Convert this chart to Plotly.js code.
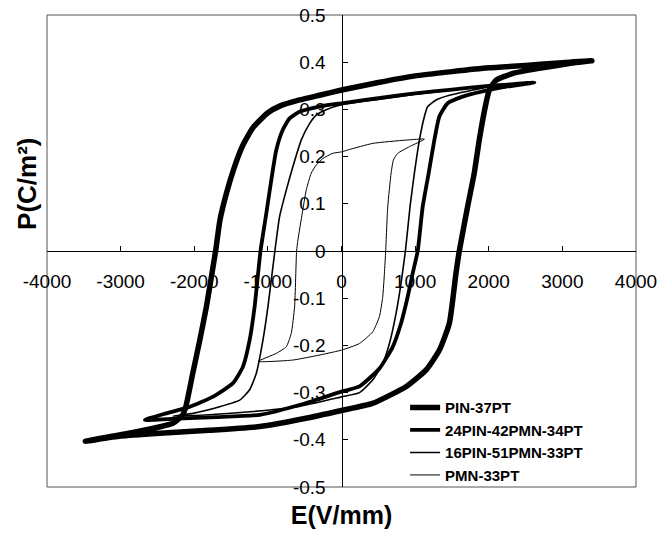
<!DOCTYPE html>
<html>
<head>
<meta charset="utf-8">
<script src="https://cdn.plot.ly/plotly-3.0.1.min.js"></script>
<style>html,body{margin:0;padding:0;background:#fff;}#chart{width:672px;height:536px;}</style>
</head>
<body>
<div id="chart"></div>
<script>
// ---- data ----
const seriesNames = ["PIN-37PT", "24PIN-42PMN-34PT", "16PIN-51PMN-33PT", "PMN-33PT"];

// PIN-37PT : upper branch (+tip -> -tip) then lower branch (-tip -> +tip)
const pin37_E = [3400, 3000, 2500, 2000, 1500, 1000, 500, 0, -300, -570, -840, -1000, -1200, -1340, -1450, -1560, -1650, -1710, -1835, -1925, -2020, -2115, -2160, -2290, -2780, -3480,
                 -3000, -2470, -1800, -1110, -500, 0, 420, 880, 1150, 1330, 1465, 1555, 1600, 1713, 1803, 1871, 1953, 2007, 2100, 2320, 2685, 3130, 3400];
const pin37_P = [0.403, 0.399, 0.393, 0.388, 0.380, 0.371, 0.357, 0.341, 0.330, 0.320, 0.307, 0.293, 0.262, 0.224, 0.180, 0.124, 0.066, 0.000, -0.118, -0.189, -0.259, -0.330, -0.348, -0.365, -0.383, -0.403,
                 -0.392, -0.386, -0.380, -0.372, -0.355, -0.338, -0.323, -0.287, -0.252, -0.210, -0.153, -0.047, 0.000, 0.094, 0.165, 0.235, 0.306, 0.341, 0.362, 0.376, 0.387, 0.398, 0.403];

// 24PIN-42PMN-34PT
const pin24_E = [2620, 2200, 2000, 1500, 1000, 500, 0, -300, -570, -705, -800, -886, -954, -1021, -1100, -1180, -1248, -1338, -1474, -1750, -2060, -2380, -2670,
                 -2240, -1700, -1110, -500, 0, 244, 515, 696, 809, 899, 967, 1035, 1103, 1184, 1261, 1329, 1442, 1645, 1916, 2195, 2620];
const pin24_P = [0.357, 0.352, 0.350, 0.342, 0.334, 0.324, 0.313, 0.306, 0.295, 0.281, 0.256, 0.214, 0.150, 0.080, 0.000, -0.118, -0.189, -0.245, -0.280, -0.309, -0.330, -0.344, -0.358,
                 -0.355, -0.352, -0.347, -0.323, -0.298, -0.287, -0.249, -0.203, -0.153, -0.097, -0.047, 0.000, 0.094, 0.165, 0.235, 0.285, 0.313, 0.327, 0.338, 0.347, 0.357];

// 16PIN-51PMN-33PT
const pin16_E = [2000, 1500, 1000, 500, 0, -200, -343, -434, -547, -660, -750, -841, -905, -999, -1067, -1157, -1248, -1383, -1654, -2016, -2290,
                 -1800, -1200, -600, 0, 244, 425, 560, 651, 741, 809, 868, 931, 990, 1058, 1126, 1171, 1284, 1465, 1781, 2000];
const pin16_P = [0.348, 0.341, 0.332, 0.321, 0.310, 0.300, 0.288, 0.270, 0.235, 0.179, 0.129, 0.073, 0.000, -0.118, -0.189, -0.259, -0.294, -0.316, -0.330, -0.344, -0.350,
                 -0.347, -0.340, -0.330, -0.309, -0.300, -0.273, -0.238, -0.196, -0.132, -0.068, 0.000, 0.094, 0.165, 0.235, 0.285, 0.306, 0.320, 0.330, 0.341, 0.348];

// PMN-33PT
const pmn_E = [1126, 877, 425, 108, 0, -118, -253, -343, -411, -479, -533, -592, -610, -637, -682, -750, -886, -1135,
               -660, 0, 244, 425, 515, 560, 583, 600, 628, 674, 705, 764, 922, 1126];
const pmn_P = [0.237, 0.235, 0.228, 0.215, 0.210, 0.207, 0.196, 0.182, 0.165, 0.129, 0.080, 0.023, 0.000, -0.118, -0.174, -0.203, -0.217, -0.234,
               -0.231, -0.210, -0.196, -0.171, -0.139, -0.097, -0.047, 0.000, 0.094, 0.165, 0.193, 0.207, 0.221, 0.237];

// tick labels
const xTickVals = [-4000, -3000, -2000, -1000, 0, 1000, 2000, 3000, 4000];
const xTickText = ["-4000", "-3000", "-2000", "-1000", "0", "1000", "2000", "3000", "4000"];
const yTickVals = [-0.5, -0.4, -0.3, -0.2, -0.1, 0, 0.1, 0.2, 0.3, 0.4, 0.5];
const yTickText = ["-0.5", "-0.4", "-0.3", "-0.2", "-0.1", "0", "0.1", "0.2", "0.3", "0.4", "0.5"];

const xTitle = "E(V/mm)";
const yTitle = "P(C/m²)";

// ---- chart ----
const FONT = "Liberation Sans, Arial, Helvetica, sans-serif";
const widths = [5.5, 3.8, 1.6, 1];
const xs = [pin37_E, pin24_E, pin16_E, pmn_E];
const ys = [pin37_P, pin24_P, pin16_P, pmn_P];

const traces = seriesNames.map((n, i) => ({
  type: "scatter",
  mode: "lines",
  name: n,
  x: xs[i],
  y: ys[i],
  line: {color: "#000", width: widths[i], shape: "spline", smoothing: 0.5},
  hoverinfo: "skip"
}));

const layout = {
  width: 672,
  height: 536,
  margin: {l: 47, r: 36, t: 15, b: 49},
  paper_bgcolor: "#fff",
  plot_bgcolor: "#fff",
  showlegend: true,
  font: {family: FONT, color: "#000"},
  xaxis: {
    range: [-4000, 4000],
    tickvals: xTickVals,
    ticktext: xTickText,
    anchor: "free",
    position: 0.5,
    showline: true,
    linecolor: "#000",
    linewidth: 1,
    ticks: "inside",
    ticklen: 5,
    tickcolor: "#000",
    showgrid: false,
    zeroline: false,
    tickfont: {size: 19, family: FONT, color: "#000"},
    ticklabelstandoff: 13,
    title: {text: xTitle, font: {size: 25, family: FONT, weight: "bold", color: "#000"}, standoff: 215}
  },
  yaxis: {
    range: [-0.5, 0.5],
    tickvals: yTickVals,
    ticktext: yTickText,
    anchor: "free",
    position: 0.5,
    showline: true,
    linecolor: "#000",
    linewidth: 1,
    ticks: "inside",
    ticklen: 5,
    tickcolor: "#000",
    showgrid: false,
    zeroline: false,
    tickfont: {size: 19, family: FONT, color: "#000"},
    ticklabelstandoff: 12
  },
  annotations: [{
    text: yTitle,
    xref: "paper", yref: "paper",
    x: -0.034, y: 0.642,
    xanchor: "center", yanchor: "middle",
    textangle: -90,
    showarrow: false,
    font: {size: 26, family: FONT, weight: "bold", color: "#000"}
  }],
  legend: {
    x: 0.608,
    y: 0.203,
    xanchor: "left",
    yanchor: "top",
    bgcolor: "rgba(0,0,0,0)",
    borderwidth: 0,
    font: {size: 15, family: FONT, weight: "bold", color: "#000"},
    tracegroupgap: 0
  },
  shapes: [{
    type: "rect", xref: "paper", yref: "paper", x0: 0, x1: 1, y0: 0, y1: 1,
    line: {color: "#555", width: 1}, layer: "below"
  }]
};

Plotly.newPlot("chart", traces, layout, {displayModeBar: false, staticPlot: true});
</script>
</body>
</html>
